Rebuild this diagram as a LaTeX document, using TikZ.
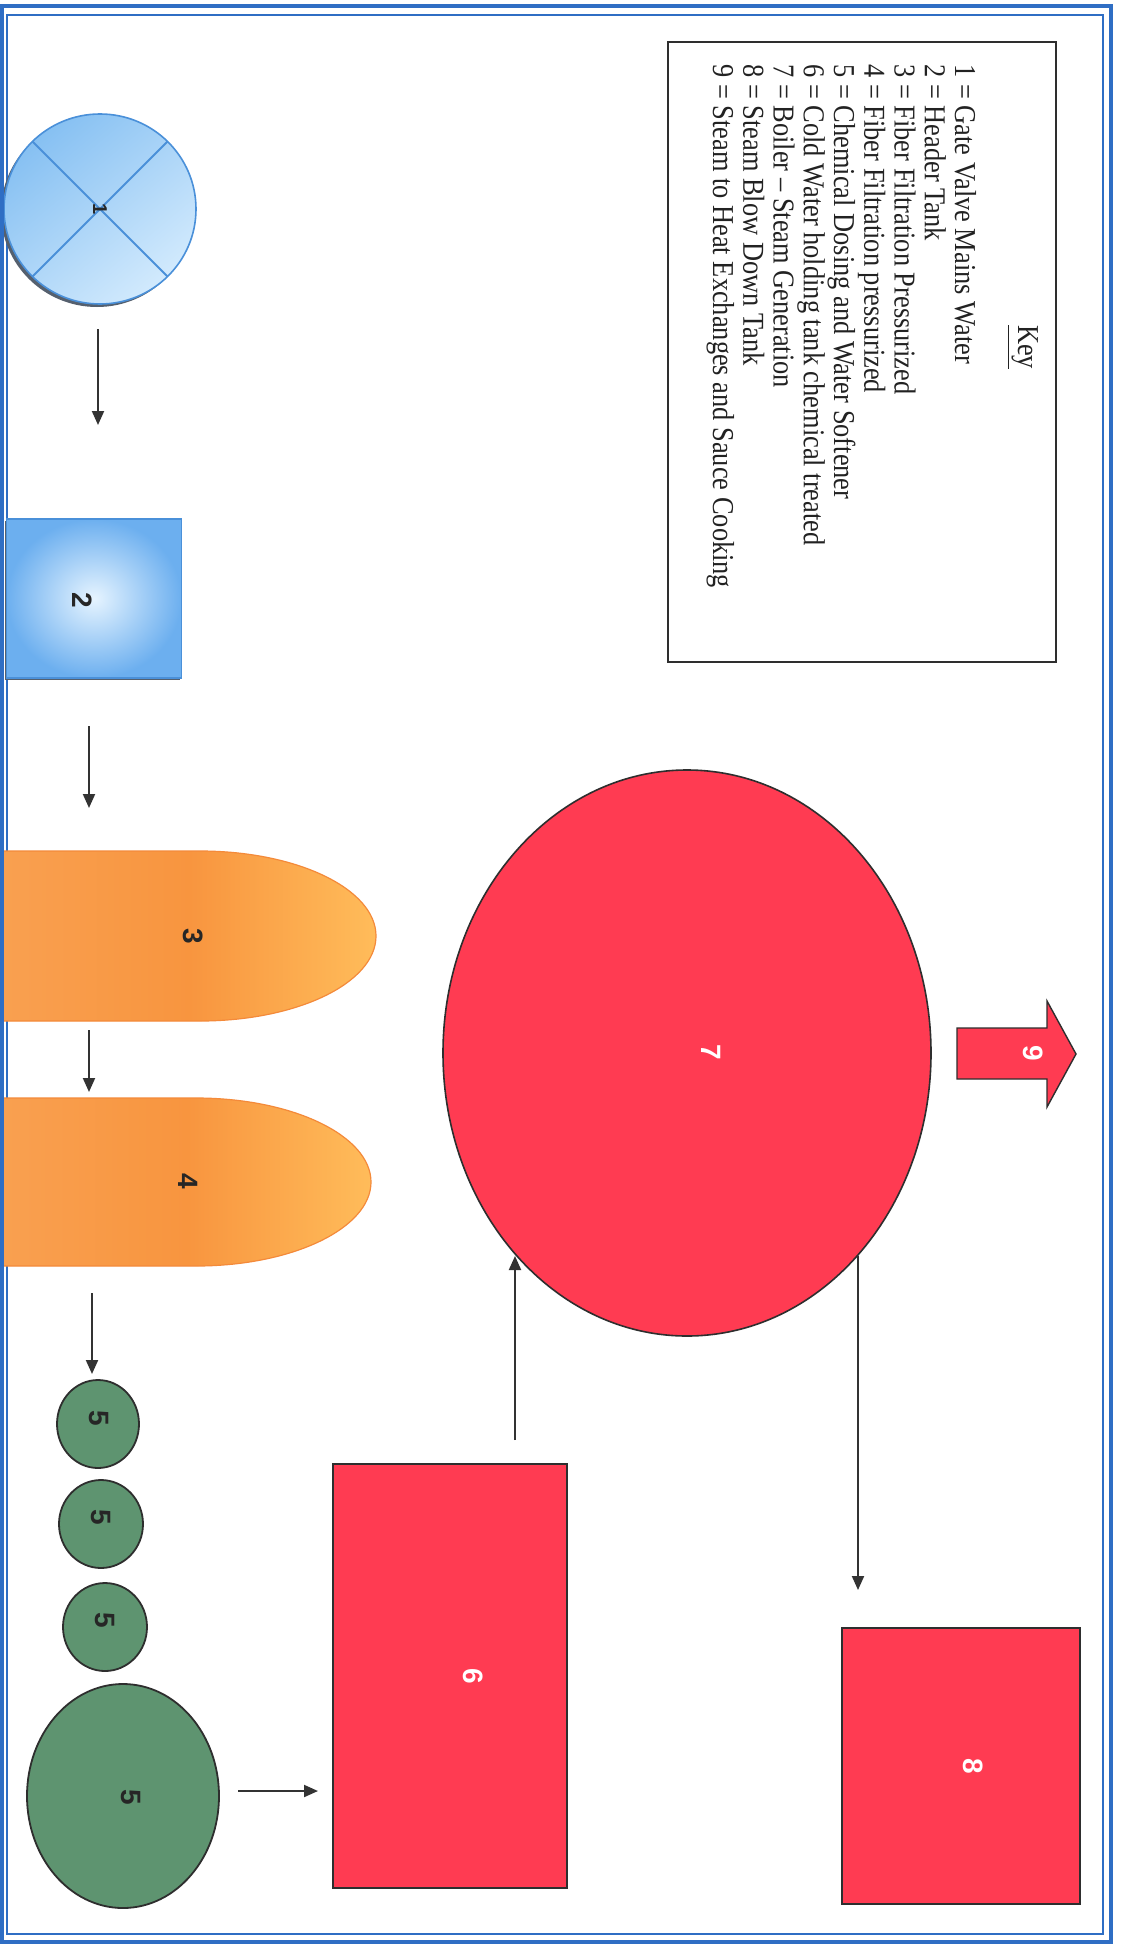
\documentclass[tikz,border=0pt]{standalone}
\usepackage{fontspec}
\setmainfont{Liberation Serif}
\newfontfamily\labfont{Liberation Sans}
\usetikzlibrary{shapes.geometric,arrows.meta}
\definecolor{bordblue}{HTML}{2F6EC4}
\definecolor{redfill}{HTML}{FF3B52}
\definecolor{greenfill}{HTML}{5E9470}
\definecolor{edgedark}{HTML}{2E2E2E}
\definecolor{blueA}{HTML}{86C0F2}
\definecolor{blueB}{HTML}{D2EAFD}
\definecolor{sqA}{HTML}{6CAFEF}
\definecolor{sqB}{HTML}{E6F4FF}
\definecolor{blueEdge}{HTML}{4A90D9}
\definecolor{blueShadow}{HTML}{55606E}
\definecolor{orA}{HTML}{F9A050}
\definecolor{orB}{HTML}{F8953F}
\definecolor{orC}{HTML}{FFBC5A}
\definecolor{orEdge}{HTML}{F48A3A}
\definecolor{conn}{HTML}{333333}
\definecolor{keytext}{HTML}{222222}
\tikzset{
  arr/.style={draw=conn, line width=1pt, -{Triangle[length=7pt,width=6pt]}},
  redshape/.style={fill=redfill, draw=edgedark, line width=0.8pt, inner sep=0pt, outer sep=0pt},
  greencirc/.style={ellipse, fill=greenfill, draw=edgedark, line width=0.9pt, inner sep=0pt, outer sep=0pt},
  darklab/.style={font=\labfont\bfseries\fontsize{14}{14}\selectfont, text=black!85, rotate=-90, inner sep=0pt},
  whitelab/.style={font=\labfont\bfseries\fontsize{14}{14}\selectfont, text=white, rotate=-90, inner sep=0pt},
  keyline/.style={font=\fontsize{13.2}{15}\selectfont, text=keytext, rotate=-90, anchor=base west, inner sep=0pt},
}
\newcommand\kt[1]{\scalebox{1}[1.15]{#1}}
\begin{document}
\begin{tikzpicture}[x=0.5pt, y=-0.5pt]
\useasboundingbox (0,0) rectangle (1122,1948);
\fill[white] (0,0) rectangle (1122,1948);
% border
\draw[bordblue, line width=0.8pt] (7,15) rectangle (1103,1934);
% key box
\node[draw=edgedark, line width=0.9pt, minimum width=194pt, minimum height=310pt, inner sep=0pt] (keybox) at (862,352) {};
\node[keyline, anchor=base] (keyhead) at (1018,347) {\kt{\underline{Key}}};
\node[keyline] (k1) at (955,64) {\kt{1 = Gate Valve Mains Water}};
\node[keyline] (k2) at (924.75,64) {\kt{2 = Header Tank}};
\node[keyline] (k3) at (894.5,64) {\kt{3 = Fiber Filtration Pressurized}};
\node[keyline] (k4) at (864.25,64) {\kt{4 = Fiber Filtration pressurized}};
\node[keyline] (k5) at (834,64) {\kt{5 = Chemical Dosing and Water Softener}};
\node[keyline] (k6) at (803.75,64) {\kt{6 = Cold Water holding tank chemical treated}};
\node[keyline] (k7) at (773.5,64) {\kt{7 = Boiler – Steam Generation}};
\node[keyline] (k8) at (743.25,64) {\kt{8 = Steam Blow Down Tank}};
\node[keyline] (k9) at (713,64) {\kt{9 = Steam to Heat Exchanges and Sauce Cooking}};
% 1 gate valve
\node[ellipse, fill=blueShadow, minimum width=96pt, minimum height=95pt, inner sep=0pt] (s1) at (97,212) {};
\node[ellipse, draw=blueEdge, line width=0.8pt, top color=blueA, bottom color=blueB, shading angle=40, minimum width=96pt, minimum height=95pt, inner sep=0pt, outer sep=0pt] (n1) at (100,209) {};
\draw[blueEdge, line width=0.9pt] (n1.45) -- (n1.225);
\draw[blueEdge, line width=0.9pt] (n1.135) -- (n1.315);
\node[darklab, font=\labfont\bfseries\fontsize{10}{10}\selectfont] (l1) at (100,209) {1};
% 2 header tank
\node[rectangle, fill=blueShadow, minimum width=87.5pt, minimum height=79.5pt, inner sep=0pt] (s2) at (92,600) {};
\node[rectangle, draw=blueEdge, line width=0.7pt, inner color=sqB, outer color=sqA, minimum width=87.5pt, minimum height=79.5pt, inner sep=0pt, outer sep=0pt] (n2) at (94,598.5) {};
\node[darklab] (l2) at (82,600) {2};
% 3 and 4 filters
\shade[left color=orA, right color=orC, middle color=orB, draw=orEdge, line width=0.6pt]
  (3,851) -- (200,851) .. controls (297,851) and (376,889) .. (376,936)
  .. controls (376,983) and (297,1021) .. (200,1021) -- (3,1021) -- cycle;
\node[darklab] (n3) at (193,936) {3};
\shade[left color=orA, right color=orC, middle color=orB, draw=orEdge, line width=0.6pt]
  (3,1098) -- (196,1098) .. controls (293,1098) and (371,1136) .. (371,1182)
  .. controls (371,1228) and (293,1266) .. (196,1266) -- (3,1266) -- cycle;
\node[darklab] (n4) at (188,1181) {4};
% 5 softeners
\node[greencirc, minimum width=41pt, minimum height=44pt] (n5a) at (98,1424) {};
\node[greencirc, minimum width=42pt, minimum height=44pt] (n5b) at (101,1524) {};
\node[greencirc, minimum width=42pt, minimum height=44pt] (n5c) at (105,1627) {};
\node[greencirc, minimum width=96pt, minimum height=112pt] (n5d) at (123,1796) {};
\node[darklab] (l5a) at (99,1418) {5};
\node[darklab] (l5b) at (101,1517) {5};
\node[darklab] (l5c) at (105,1620) {5};
\node[darklab] (l5d) at (131,1797) {5};
% 6 cold water tank
\node[redshape, rectangle, minimum width=117pt, minimum height=212pt] (n6) at (450,1676) {};
\node[whitelab] (l6) at (473,1676) {6};
% 7 boiler
\node[redshape, ellipse, minimum width=244pt, minimum height=283pt] (n7) at (687,1053) {};
\node[whitelab] (l7) at (711,1052) {7};
% 8 blow down tank
\node[redshape, rectangle, minimum width=119pt, minimum height=138pt] (n8) at (961,1766) {};
\node[whitelab] (l8) at (973,1766) {8};
% 9 steam out
\filldraw[fill=redfill, draw=edgedark, line width=0.7pt]
  (957,1028) -- (1047,1028) -- (1047,1001) -- (1076,1054) -- (1047,1107) -- (1047,1079) -- (957,1079) -- cycle;
\node[whitelab] (n9) at (1033,1053) {9};
% connector end points
\coordinate (a1s) at (98,329);  \coordinate (a1e) at (98,425);
\coordinate (a2s) at (89,726);  \coordinate (a2e) at (89,808);
\coordinate (a3s) at (89,1030); \coordinate (a3e) at (89,1092);
\coordinate (a4s) at (92,1293); \coordinate (a4e) at (92,1374);
\coordinate (a5s) at (238,1791); \coordinate (a5e) at (318,1791);
\coordinate (a6s) at (515,1440); \coordinate (a6e) at (515,1256);
\coordinate (a7s) at (858,1256); \coordinate (a7e) at (858,1590);
\draw[arr] (a1s) -- (a1e);
\draw[arr] (a2s) -- (a2e);
\draw[arr] (a3s) -- (a3e);
\draw[arr] (a4s) -- (a4e);
\draw[arr] (a5s) -- (a5e);
\draw[arr] (a6s) -- (a6e);
\draw[arr] (a7s) -- (a7e);
% outer border
\draw[bordblue, line width=2pt] (1.5,6) rectangle (1111,1942);
\end{tikzpicture}
\end{document}
